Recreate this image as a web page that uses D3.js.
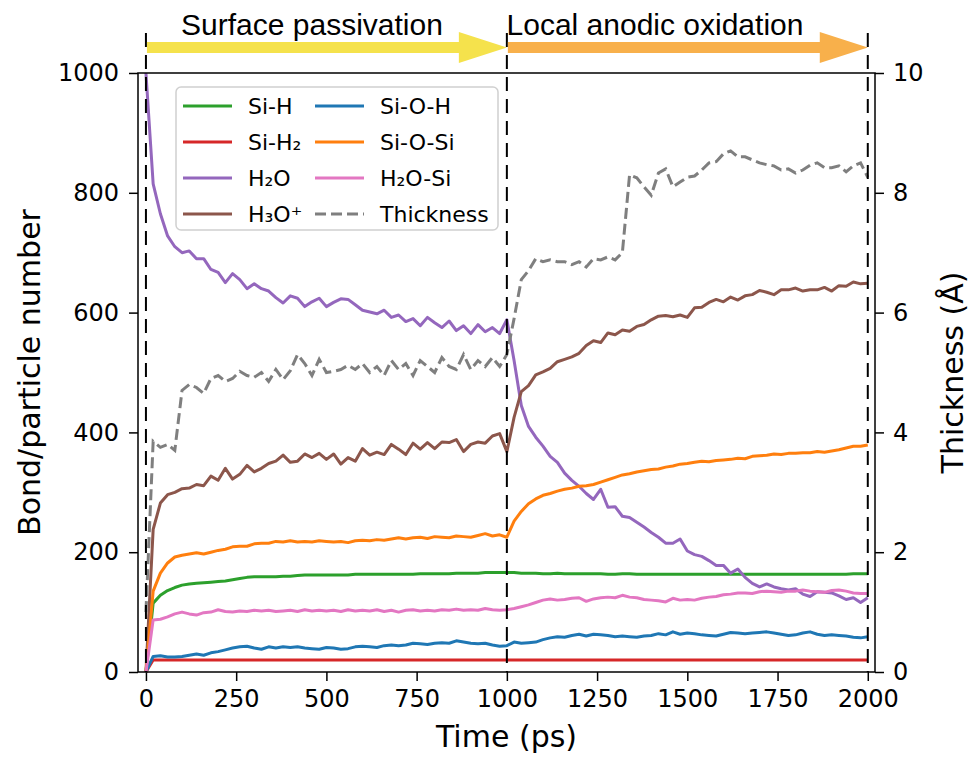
<!DOCTYPE html>
<html>
<head>
<meta charset="utf-8">
<script src="https://cdn.jsdelivr.net/npm/d3@7"></script>
<style>
  body { margin: 0; background: #fff; }
  text { font-family: 'DejaVu Sans', sans-serif; fill: #000; }
</style>
</head>
<body>
<div id="chart"></div>
<script>
// time grid (ps), one sample every 20 ps
const time = d3.range(0, 2001, 20);

// bond / particle counts
const siH = [
  0, 115, 128, 136, 141, 145, 147, 148, 149, 150,
  151, 152, 154, 156, 158, 159, 159, 159, 159, 160,
  160, 161, 162, 162, 162, 162, 162, 162, 162, 163,
  163, 163, 163, 163, 163, 163, 163, 163, 164, 164,
  164, 164, 164, 165, 165, 165, 165, 166, 166, 166,
  166,
  166, 165, 165, 165, 164, 164, 165, 164, 164, 164,
  164, 164, 164, 163, 163, 164, 164, 163, 163, 163,
  163, 163, 163, 163, 163, 163, 163, 163, 163, 163,
  163, 163, 163, 163, 163, 163, 163, 163, 163, 163,
  163, 163, 163, 163, 163, 163, 163, 164, 164, 164
];
const siH2 = [
  0, 20, 20, 20, 20, 20, 20, 20, 20, 20,
  20, 20, 20, 20, 20, 20, 20, 20, 20, 20,
  20, 20, 20, 20, 20, 20, 20, 20, 20, 20,
  20, 20, 20, 20, 20, 20, 20, 20, 20, 20,
  20, 20, 20, 20, 20, 20, 20, 20, 20, 20,
  20,
  20, 20, 20, 20, 20, 20, 20, 20, 20, 20,
  20, 20, 20, 20, 20, 20, 20, 20, 20, 20,
  20, 20, 20, 20, 20, 20, 20, 20, 20, 20,
  20, 20, 20, 20, 20, 20, 20, 20, 20, 20,
  20, 20, 20, 20, 20, 20, 20, 20, 20, 20
];
const h2o = [
  1000, 815, 765, 728, 710, 700, 703, 690, 690, 672,
  667, 650, 665, 655, 640, 648, 640, 636, 625, 616,
  628, 624, 610, 618, 624, 610, 617, 623, 622, 613,
  604, 601, 598, 604, 592, 596, 585, 590, 578, 592,
  583, 575, 586, 570, 578, 565, 580, 568, 575, 565,
  588,
  520, 445, 410, 392, 377, 360, 350, 332, 320, 310,
  298, 288, 305, 275, 276, 260, 258, 250, 242, 233,
  225, 215, 215, 222, 202, 196, 193, 186, 178, 178,
  165, 172, 158, 148, 142, 147, 142, 139, 137, 139,
  130, 126, 134, 133, 132, 127, 121, 124, 116, 124
];
const h3o = [
  0, 238, 282, 296, 300, 306, 307, 313, 311, 327,
  320, 340, 322, 330, 345, 334, 340, 348, 352, 362,
  350, 352, 364, 358, 365, 355, 364, 347, 358, 352,
  373, 362, 367, 363, 380, 372, 363, 382, 372, 383,
  373, 384, 383, 388, 368, 380, 384, 382, 394, 398,
  368,
  425, 468, 478, 496, 501, 507, 518, 522, 526, 532,
  545, 553, 550, 566, 563, 571, 569, 577, 580, 588,
  594, 595, 593, 596, 592, 608, 609, 617, 622, 618,
  626, 621, 628, 630, 637, 634, 630, 638, 638, 641,
  636, 638, 638, 642, 636, 645, 644, 651, 648, 649
];
const siOH = [
  0, 26, 27, 25, 25, 26, 28, 30, 28, 32,
  34, 37, 40, 42, 43, 40, 38, 42, 40, 42,
  41, 42, 40, 39, 38, 41, 40, 38, 39, 42,
  43, 42, 41, 44, 45, 44, 45, 48, 47, 46,
  48, 49, 48, 52, 50, 48, 47, 48, 45, 43,
  44,
  50, 48, 49, 50, 54, 57, 59, 58, 61, 63,
  60, 63, 62, 61, 59, 60, 59, 58, 60, 61,
  64, 62, 67, 63, 65, 64, 62, 61, 60, 63,
  66, 65, 64, 65, 66, 67, 65, 63, 61, 62,
  65, 67, 63, 61, 62, 61, 60, 58, 57, 59
];
const siOSi = [
  0, 135, 165, 182, 192, 195, 197, 199, 197, 200,
  203, 205, 209, 210, 210, 214, 215, 215, 218, 217,
  219, 217, 218, 217, 219, 218, 217, 218, 216, 219,
  220, 219, 221, 220, 222, 224, 222, 224, 225, 223,
  226, 225, 224, 227, 226, 225, 228, 231, 227, 229,
  225,
  252, 268, 281, 289, 295, 298, 302, 305, 307, 310,
  311, 313, 317, 321, 325, 329, 331, 334, 336, 338,
  339, 342, 344, 347, 348, 350, 352, 351, 353, 354,
  355, 357, 356, 360, 361, 362, 364, 363, 365, 365,
  366, 366, 368, 367, 369, 371, 374, 377, 377, 379
];
const h2oSi = [
  0, 87, 88, 92, 97, 100, 97, 95, 99, 100,
  104, 101, 100, 102, 101, 103, 102, 103, 101, 102,
  103, 101, 104, 102, 103, 102, 103, 101, 104, 102,
  103, 102, 104, 101, 103, 100, 103, 104, 102, 103,
  102, 104, 103, 105, 103, 104, 103, 106, 104, 103,
  104,
  106, 109, 112, 116, 120, 122, 120, 121, 123, 124,
  118, 122, 124, 125, 124, 128, 125, 124, 121, 120,
  119, 117, 123, 120, 121, 120, 123, 125, 126, 129,
  130, 132, 132, 131, 134, 135, 134, 133, 135, 135,
  137, 135, 134, 133, 136, 137, 135, 132, 131, 131
];
// oxide thickness (Å), right axis
const thickness = [
  1.0, 3.85, 3.75, 3.8, 3.7, 4.7, 4.8, 4.75, 4.65, 4.9,
  4.95, 4.85, 4.9, 5.02, 4.95, 4.92, 5.0, 4.85, 5.05, 4.88,
  5.03, 5.3, 5.15, 4.95, 5.22, 5.0, 5.02, 5.05, 5.12, 5.05,
  5.15, 5.0, 5.1, 4.95, 5.2, 5.05, 5.15, 4.95, 5.2, 5.1,
  5.0, 5.25, 5.1, 5.05, 5.3, 5.05, 5.2, 5.1, 5.25, 5.1,
  5.3,
  5.9, 6.55, 6.7, 6.9, 6.85, 6.88, 6.85, 6.85, 6.8, 6.85,
  6.76, 6.9, 6.88, 6.93, 6.88, 7.0, 8.3, 8.25, 8.1, 7.96,
  8.33, 8.4, 8.1, 8.18, 8.26, 8.28, 8.38, 8.5, 8.52, 8.65,
  8.7, 8.6, 8.6, 8.55, 8.5, 8.47, 8.45, 8.38, 8.4, 8.33,
  8.38, 8.46, 8.5, 8.42, 8.42, 8.45, 8.35, 8.45, 8.5, 8.26
];

const series = [
  { name: 'Si-H', values: siH, color: '#2ca02c' },
  { name: 'Si-H₂', values: siH2, color: '#d62728' },
  { name: 'H₂O', values: h2o, color: '#9467bd' },
  { name: 'H₃O⁺', values: h3o, color: '#8c564b' },
  { name: 'Si-O-H', values: siOH, color: '#1f77b4' },
  { name: 'Si-O-Si', values: siOSi, color: '#ff7f0e' },
  { name: 'H₂O-Si', values: h2oSi, color: '#e377c2' }
];

const xTicks = [0, 250, 500, 750, 1000, 1250, 1500, 1750, 2000];
const yTicks = [0, 200, 400, 600, 800, 1000];
const y2Ticks = [0, 2, 4, 6, 8, 10];
const stageBounds = [0, 1000, 2000];
const stages = [
  { label: 'Surface passivation', from: 0, to: 1000, color: '#f5e24c' },
  { label: 'Local anodic oxidation', from: 1000, to: 2000, color: '#f8b04b' }
];

const width = 973, height = 758;
const margin = { left: 138, right: 98, top: 73, bottom: 86 };

const svg = d3.select('#chart')
  .append('svg')
  .attr('width', width)
  .attr('height', height);

const x = d3.scaleLinear().domain([-22, 2020]).range([margin.left, width - margin.right]);
const y = d3.scaleLinear().domain([0, 1000]).range([height - margin.bottom, margin.top]);
const y2 = d3.scaleLinear().domain([0, 10]).range([height - margin.bottom, margin.top]);

// axes
const fmt = d3.format('d');
const xAxis = svg.append('g')
  .attr('transform', `translate(0,${height - margin.bottom})`)
  .call(d3.axisBottom(x).tickValues(xTicks).tickFormat(fmt).tickSize(9).tickPadding(9));
const yAxis = svg.append('g')
  .attr('transform', `translate(${margin.left},0)`)
  .call(d3.axisLeft(y).tickValues(yTicks).tickFormat(fmt).tickSize(9).tickPadding(10));
const y2Axis = svg.append('g')
  .attr('transform', `translate(${width - margin.right},0)`)
  .call(d3.axisRight(y2).tickValues(y2Ticks).tickFormat(fmt).tickSize(9).tickPadding(9));

[xAxis, yAxis, y2Axis].forEach(g => {
  g.select('.domain').remove();
  g.selectAll('line').attr('stroke', '#000').attr('stroke-width', 1.5);
  g.selectAll('text').attr('font-size', 24).attr('font-family', 'DejaVu Sans').attr('fill', '#000');
});

// lines
const line = d3.line()
  .x((d, i) => x(time[i]))
  .y(d => y(d));

series.forEach(s => {
  svg.append('path')
    .datum(s.values)
    .attr('fill', 'none')
    .attr('stroke', s.color)
    .attr('stroke-width', 3)
    .attr('stroke-linejoin', 'round')
    .attr('d', line);
});

const line2 = d3.line()
  .x((d, i) => x(time[i]))
  .y(d => y2(d));

svg.append('path')
  .datum(thickness)
  .attr('fill', 'none')
  .attr('stroke', '#7f7f7f')
  .attr('stroke-width', 3)
  .attr('stroke-dasharray', '11,5')
  .attr('d', line2);

// stage separators
svg.selectAll('.stage-line')
  .data(stageBounds)
  .join('line')
  .attr('class', 'stage-line')
  .attr('x1', d => x(d))
  .attr('x2', d => x(d))
  .attr('y1', 33)
  .attr('y2', height - margin.bottom)
  .attr('stroke', '#000')
  .attr('stroke-width', 2)
  .attr('stroke-dasharray', '14,8');

// frame
svg.append('rect')
  .attr('x', margin.left)
  .attr('y', margin.top)
  .attr('width', width - margin.left - margin.right)
  .attr('height', height - margin.top - margin.bottom)
  .attr('fill', 'none')
  .attr('stroke', '#000')
  .attr('stroke-width', 1.5);

// stage arrows
const headLen = 48, bodyHalf = 5.5, headHalf = 15.5, arrowY = 47.5;
stages.forEach(st => {
  const x0 = x(st.from) + 1, x1 = x(st.to);
  const xb = x1 - headLen;
  const pts = [
    [x0, arrowY - bodyHalf], [xb, arrowY - bodyHalf], [xb, arrowY - headHalf],
    [x1, arrowY], [xb, arrowY + headHalf], [xb, arrowY + bodyHalf], [x0, arrowY + bodyHalf]
  ];
  svg.append('polygon')
    .attr('points', pts.map(p => p.join(',')).join(' '))
    .attr('fill', st.color);
});

svg.selectAll('.stage-label')
  .data(stages)
  .join('text')
  .attr('class', 'stage-label')
  .attr('x', (d, i) => i === 0 ? 312 : 655)
  .attr('y', 35)
  .attr('text-anchor', 'middle')
  .style('font-family', "'Liberation Sans', Arial, sans-serif")
  .attr('font-size', 30)
  .text(d => d.label);

// axis labels
svg.append('text')
  .attr('x', (margin.left + width - margin.right) / 2)
  .attr('y', 747)
  .attr('text-anchor', 'middle')
  .attr('font-size', 30)
  .text('Time (ps)');

svg.append('text')
  .attr('transform', `translate(40,${(margin.top + height - margin.bottom) / 2}) rotate(-90)`)
  .attr('text-anchor', 'middle')
  .attr('font-size', 30)
  .text('Bond/particle number');

svg.append('text')
  .attr('transform', `translate(963,${(margin.top + height - margin.bottom) / 2}) rotate(-90)`)
  .attr('text-anchor', 'middle')
  .attr('font-size', 30)
  .text('Thickness (Å)');

// legend
const legendItems = series.map(s => ({ name: s.name, color: s.color, dash: null }))
  .concat([{ name: 'Thickness', color: '#7f7f7f', dash: '11,5' }]);

const legend = svg.append('g').attr('transform', 'translate(176,87)');
legend.append('rect')
  .attr('width', 322)
  .attr('height', 143)
  .attr('rx', 5)
  .attr('fill', '#fff')
  .attr('fill-opacity', 0.8)
  .attr('stroke', '#d0d0d0')
  .attr('stroke-width', 1.5);

// two columns, four rows (column-major like matplotlib)
legendItems.forEach((d, i) => {
  const col = Math.floor(i / 4), row = i % 4;
  const g = legend.append('g')
    .attr('transform', `translate(${7 + col * 132},${19 + row * 36})`);
  g.append('line')
    .attr('x1', 0).attr('x2', 49)
    .attr('y1', 0).attr('y2', 0)
    .attr('stroke', d.color)
    .attr('stroke-width', 3)
    .attr('stroke-dasharray', d.dash);
  g.append('text')
    .attr('x', 65)
    .attr('y', 8)
    .attr('font-size', 22)
    .text(d.name);
});
</script>
</body>
</html>
